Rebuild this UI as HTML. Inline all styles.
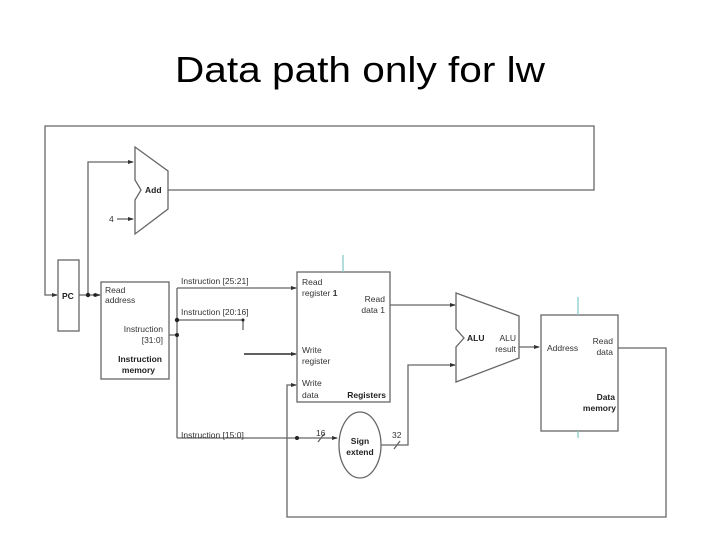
<!DOCTYPE html>
<html><head><meta charset="utf-8"><style>
html,body{margin:0;padding:0;background:#fff;width:720px;height:540px;overflow:hidden}
svg{display:block}
.t{font-family:"Liberation Sans",sans-serif;font-size:8.5px;fill:#333}
.b{font-family:"Liberation Sans",sans-serif;font-size:8.5px;font-weight:bold;fill:#222}
</style></head><body>
<svg width="720" height="540" viewBox="0 0 720 540" xmlns="http://www.w3.org/2000/svg">
<defs><marker id="a" markerWidth="6" markerHeight="6" refX="5" refY="3" orient="auto" markerUnits="userSpaceOnUse"><path d="M0,1 L6,3 L0,5 z" fill="#333"/></marker></defs>
<text x="360" y="82" text-anchor="middle" font-family="Liberation Sans, sans-serif" font-size="36" textLength="370" lengthAdjust="spacingAndGlyphs" fill="#000">Data path only for lw</text>
<g stroke="#666" stroke-width="1.3" fill="none">
<!-- top loop -->
<polyline points="168,190 594,190 594,126 45,126 45,295 57,295" marker-end="url(#a)"/>
<!-- PC box -->
<rect x="58" y="260" width="21" height="71" fill="#fff"/>
<line x1="79" y1="295" x2="100" y2="295" marker-end="url(#a)"/>
<polyline points="88,295 88,162 133,162" marker-end="url(#a)"/>
<line x1="117" y1="219" x2="133" y2="219" marker-end="url(#a)"/>
<!-- Add -->
<polygon points="135,147 168,171 168,209 135,234 135,200 141,190 135,180" fill="#fff"/>
<!-- instr mem -->
<rect x="101" y="282" width="68" height="97" fill="#fff"/>
<line x1="169" y1="335" x2="177" y2="335"/>
<polyline points="177,288 177,438"/>
<line x1="177" y1="288" x2="296" y2="288" marker-end="url(#a)"/>
<polyline points="177,320 243,320 243,330"/>
<line x1="244" y1="354" x2="296" y2="354" stroke="#000" marker-end="url(#a)"/>
<line x1="177" y1="438" x2="337" y2="438" marker-end="url(#a)"/>
<!-- registers -->
<rect x="297" y="272" width="93" height="130" fill="#fff"/>
<line x1="343" y1="255" x2="343" y2="272" stroke="#8cc"/>
<line x1="390" y1="305" x2="455" y2="305" marker-end="url(#a)"/>
<!-- ALU -->
<polygon points="456,293 519,316 519,358 456,382 456,347 464,338 456,329" fill="#fff"/>
<!-- sign extend -->
<ellipse cx="360" cy="445" rx="21" ry="33" fill="#fff"/>
<line x1="318" y1="442" x2="324" y2="434"/>
<line x1="394" y1="449" x2="400" y2="441"/>
<polyline points="381,445 408,445 408,365 455,365" marker-end="url(#a)"/>
<line x1="519" y1="347" x2="539" y2="347" marker-end="url(#a)"/>
<!-- data mem -->
<rect x="541" y="315" width="77" height="116" fill="#fff"/>
<line x1="578" y1="297" x2="578" y2="315" stroke="#8cc"/>
<line x1="578" y1="431" x2="578" y2="438" stroke="#8cc"/>
<polyline points="618,348 666,348 666,517 287,517 287,385 296,385" marker-end="url(#a)"/>
</g>
<g fill="#222">
<circle cx="88" cy="295" r="2.2"/><circle cx="95" cy="295" r="1.8"/>
<circle cx="177" cy="320" r="2.2"/><circle cx="177" cy="335" r="2"/>
<circle cx="297" cy="438" r="2"/><circle cx="243" cy="320" r="1.5"/>
</g>
<text class="b" x="62" y="299">PC</text>
<text class="b" x="145" y="193">Add</text>
<text class="t" x="109" y="222">4</text>
<text class="t" x="105" y="293">Read</text>
<text class="t" x="105" y="303">address</text>
<text class="t" x="163" y="332" text-anchor="end">Instruction</text>
<text class="t" x="163" y="343" text-anchor="end">[31:0]</text>
<text class="b" x="162" y="362" text-anchor="end">Instruction</text>
<text class="b" x="155" y="373" text-anchor="end">memory</text>
<text class="t" x="181" y="284">Instruction [25:21]</text>
<text class="t" x="181" y="315">Instruction [20:16]</text>
<text class="t" x="181" y="438">Instruction [15:0]</text>
<text class="t" x="302" y="285">Read</text>
<text class="t" x="302" y="296">register <tspan font-weight="bold">1</tspan></text>
<text class="t" x="385" y="302" text-anchor="end">Read</text>
<text class="t" x="385" y="313" text-anchor="end">data 1</text>
<text class="t" x="302" y="353">Write</text>
<text class="t" x="302" y="364">register</text>
<text class="t" x="302" y="386">Write</text>
<text class="t" x="302" y="398">data</text>
<text class="b" x="386" y="398" text-anchor="end">Registers</text>
<text class="t" x="316" y="436">16</text>
<text class="t" x="392" y="438">32</text>
<text class="b" x="360" y="444" text-anchor="middle">Sign</text>
<text class="b" x="360" y="455" text-anchor="middle">extend</text>
<text class="b" x="467" y="341">ALU</text>
<text class="t" x="516" y="341" text-anchor="end">ALU</text>
<text class="t" x="516" y="352" text-anchor="end">result</text>
<text class="t" x="547" y="351">Address</text>
<text class="t" x="613" y="344" text-anchor="end">Read</text>
<text class="t" x="613" y="355" text-anchor="end">data</text>
<text class="b" x="615" y="400" text-anchor="end">Data</text>
<text class="b" x="616" y="411" text-anchor="end">memory</text>
</svg>
</body></html>
